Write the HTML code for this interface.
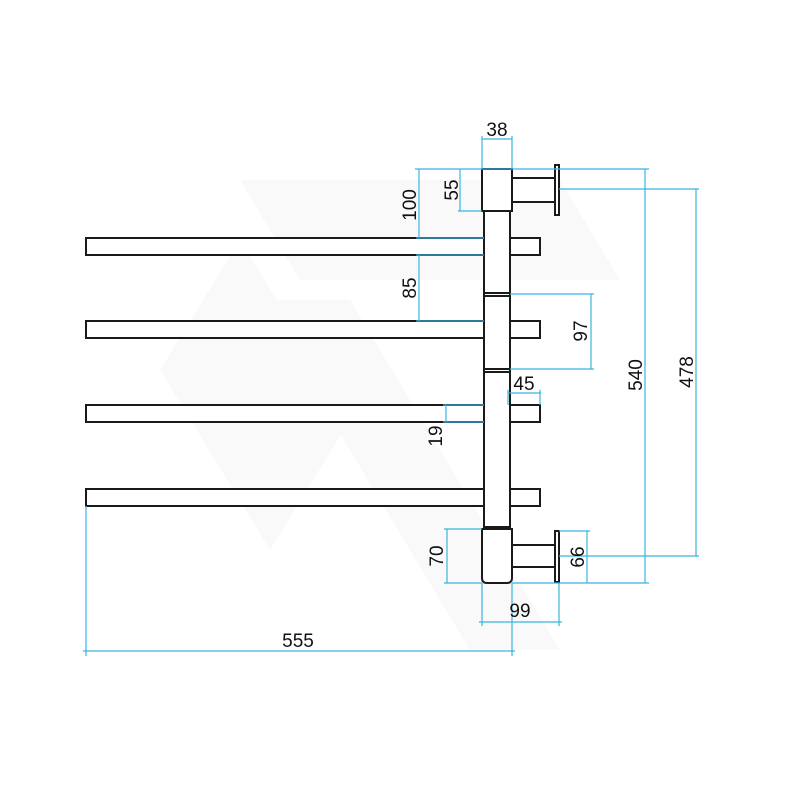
<!DOCTYPE html>
<html><head><meta charset="utf-8"><style>html,body{margin:0;padding:0;background:#fff}svg{display:block}</style></head>
<body>
<svg width="800" height="800" viewBox="0 0 800 800" xmlns="http://www.w3.org/2000/svg">
<g fill="#f9f9f9">
<polygon points="240,180 560,180 620,280 300,280"/>
<polygon points="160,370 240,240 350,420 270,550"/>
<polygon points="260,300 350,300 560,650 470,650"/>
</g>
<g fill="#fff" stroke="#1a1a1a" stroke-width="2">
<rect x="86" y="238" width="454" height="17"/>
<rect x="86" y="321" width="454" height="17"/>
<rect x="86" y="405" width="454" height="17"/>
<rect x="86" y="489" width="454" height="17"/>
<rect x="484" y="211" width="26" height="319"/>
<rect x="482" y="169" width="30" height="42"/>
<rect x="512" y="178" width="43" height="24"/>
<rect x="555" y="165" width="4" height="50"/>
<path d="M482,529 H512 V578 Q512,583 507,583 H487 Q482,583 482,578 Z"/>
<rect x="512" y="545" width="43" height="22"/>
<rect x="555" y="531" width="4" height="51"/>
<line x1="484" y1="293" x2="510" y2="293"/><line x1="484" y1="296" x2="510" y2="296"/>
<line x1="484" y1="369" x2="510" y2="369"/><line x1="484" y1="372" x2="510" y2="372"/>
<line x1="484" y1="527" x2="510" y2="527"/>
</g>
<g stroke="#3bb4e0" stroke-width="1.2" fill="none">
<line x1="482" y1="139" x2="512" y2="139"/><line x1="482" y1="136" x2="482" y2="169"/><line x1="512" y1="136" x2="512" y2="169"/>
<line x1="415" y1="169" x2="649" y2="169"/>
<line x1="460" y1="169" x2="460" y2="211"/><line x1="458" y1="211" x2="482" y2="211"/>
<line x1="419" y1="169" x2="419" y2="238"/><line x1="416" y1="238" x2="484" y2="238"/>
<line x1="419" y1="255" x2="419" y2="321"/><line x1="416" y1="255" x2="484" y2="255"/><line x1="416" y1="321" x2="484" y2="321"/>
<line x1="510" y1="294" x2="594" y2="294"/><line x1="510" y1="369" x2="594" y2="369"/><line x1="591" y1="294" x2="591" y2="369"/>
<line x1="645" y1="169" x2="645" y2="583"/>
<line x1="559" y1="189" x2="699" y2="189"/><line x1="696" y1="189" x2="696" y2="556"/>
<line x1="508" y1="393" x2="541" y2="393"/><line x1="540" y1="390" x2="540" y2="405"/><line x1="508" y1="390" x2="508" y2="405"/>
<line x1="443" y1="405" x2="484" y2="405"/><line x1="443" y1="422" x2="484" y2="422"/><line x1="446" y1="405" x2="446" y2="422"/>
<line x1="444" y1="529" x2="482" y2="529"/><line x1="444" y1="583" x2="482" y2="583"/><line x1="447" y1="529" x2="447" y2="583"/>
<line x1="559" y1="531" x2="590" y2="531"/><line x1="587" y1="531" x2="587" y2="583"/>
<line x1="559" y1="556" x2="699" y2="556"/><line x1="512" y1="583" x2="649" y2="583"/>
<line x1="482" y1="583" x2="482" y2="626"/><line x1="559" y1="583" x2="559" y2="626"/><line x1="479" y1="622" x2="562" y2="622"/>
<line x1="86" y1="506" x2="86" y2="656"/><line x1="512" y1="583" x2="512" y2="656"/><line x1="83" y1="651" x2="515" y2="651"/>
</g>
<g font-family="Liberation Sans, Arial, sans-serif" font-size="19" fill="#111" text-anchor="middle">
<text x="497" y="136">38</text>
<text x="524" y="390">45</text>
<text x="520" y="617">99</text>
<text x="298" y="647">555</text>
<text transform="translate(458,190) rotate(-90)">55</text>
<text transform="translate(416,205) rotate(-90)">100</text>
<text transform="translate(416,288) rotate(-90)">85</text>
<text transform="translate(587,331) rotate(-90)">97</text>
<text transform="translate(642,375) rotate(-90)">540</text>
<text transform="translate(693,372) rotate(-90)">478</text>
<text transform="translate(442,436) rotate(-90)">19</text>
<text transform="translate(443,556) rotate(-90)">70</text>
<text transform="translate(584,557) rotate(-90)">66</text>
</g>
</svg>
</body></html>
